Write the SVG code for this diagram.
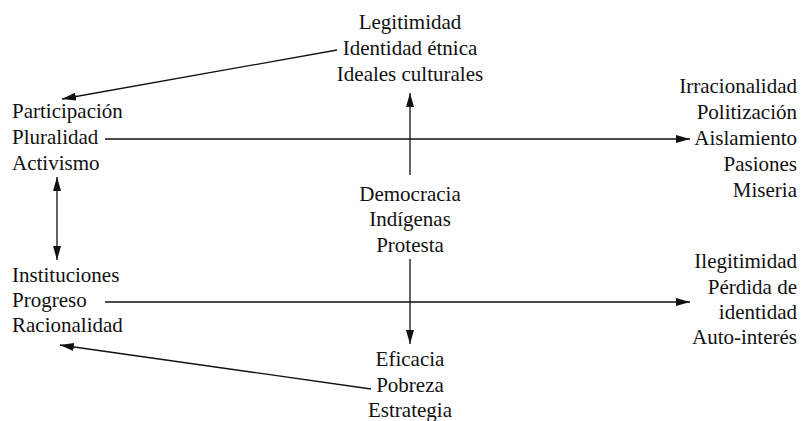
<svg xmlns="http://www.w3.org/2000/svg" width="803" height="421" viewBox="0 0 803 421">
<style>
text{font-size:21px;fill:#111}
.c{text-anchor:middle}
.r{text-anchor:end}
.l{text-anchor:start}
#connectors line{stroke:#111;stroke-width:1.3;fill:none}
</style>
<defs>
<marker id="ah" viewBox="0 0 14 8" refX="14" refY="4" markerWidth="14" markerHeight="8" markerUnits="userSpaceOnUse" orient="auto-start-reverse">
<path d="M0,0 L14,4 L0,8 Z" fill="#111"/>
</marker>
</defs>
<g id="connectors">
<line x1="410" y1="175" x2="410" y2="93" marker-end="url(#ah)"/>
<line x1="410" y1="259" x2="410" y2="344" marker-end="url(#ah)"/>
<line x1="105" y1="139" x2="690" y2="139" marker-end="url(#ah)"/>
<line x1="105" y1="302" x2="690" y2="302" marker-end="url(#ah)"/>
<line x1="57" y1="177" x2="57" y2="260" marker-start="url(#ah)" marker-end="url(#ah)"/>
<line x1="337" y1="50" x2="62" y2="99" marker-end="url(#ah)"/>
<line x1="371" y1="389" x2="60" y2="345" marker-end="url(#ah)"/>
</g>
<g font-family="Liberation Serif, serif">
<g id="top">
<text class="c" x="410" y="29">Legitimidad</text>
<text class="c" x="410" y="55">Identidad étnica</text>
<text class="c" x="410" y="81">Ideales culturales</text>
</g>
<g id="center">
<text class="c" x="410" y="201">Democracia</text>
<text class="c" x="410" y="226">Indígenas</text>
<text class="c" x="410" y="252">Protesta</text>
</g>
<g id="bottom">
<text class="c" x="410" y="366">Eficacia</text>
<text class="c" x="410" y="392">Pobreza</text>
<text class="c" x="410" y="417">Estrategia</text>
</g>
<g id="upper-left">
<text class="l" x="12" y="118">Participación</text>
<text class="l" x="12" y="144">Pluralidad</text>
<text class="l" x="12" y="170">Activismo</text>
</g>
<g id="lower-left">
<text class="l" x="12" y="282">Instituciones</text>
<text class="l" x="12" y="307">Progreso</text>
<text class="l" x="12" y="332">Racionalidad</text>
</g>
<g id="upper-right">
<text class="r" x="797" y="93">Irracionalidad</text>
<text class="r" x="797" y="119">Politización</text>
<text class="r" x="797" y="145">Aislamiento</text>
<text class="r" x="797" y="171">Pasiones</text>
<text class="r" x="797" y="197">Miseria</text>
</g>
<g id="lower-right">
<text class="r" x="797" y="268">Ilegitimidad</text>
<text class="r" x="797" y="294">Pérdida de</text>
<text class="r" x="797" y="319">identidad</text>
<text class="r" x="797" y="344">Auto-interés</text>
</g>
</g>
</svg>
